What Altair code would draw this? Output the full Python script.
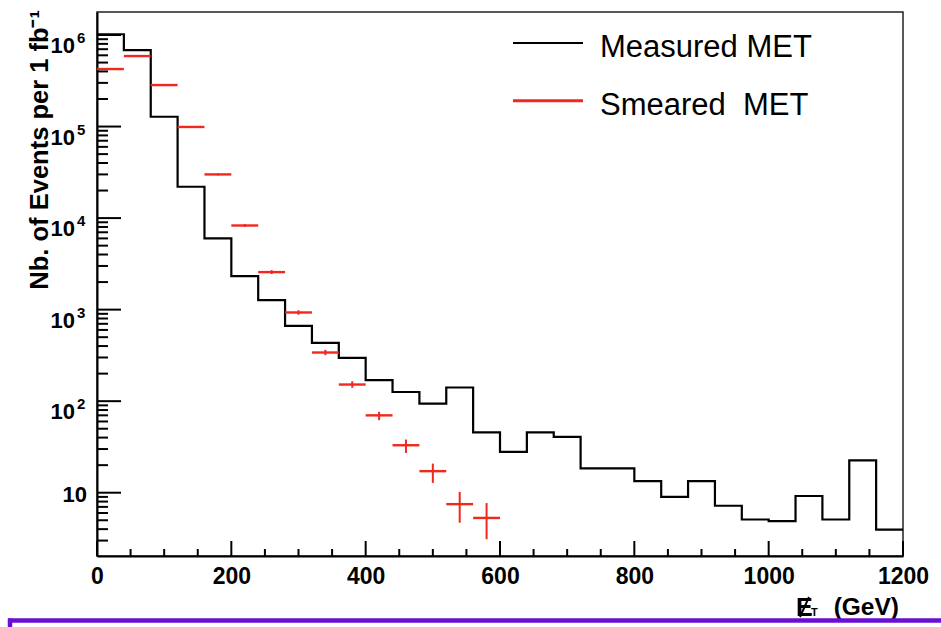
import altair as alt
import pandas as pd

# ---------------- data ----------------
bin_lo = [0, 40, 80, 120, 160, 200, 240, 280, 320, 360, 400, 440, 480, 520, 560,
          600, 640, 680, 720, 760, 800, 840, 880, 920, 960, 1000, 1040, 1080, 1120, 1160]
bin_hi_last = 1200
measured = [1.02e6, 6.85e5, 1.28e5, 2.2e4, 6.0e3, 2.32e3, 1.27e3, 665, 434, 297,
            170, 126, 94, 141, 45.5, 27.9, 45.5, 40.7, 18.4, 18.4,
            13.4, 9.0, 13.4, 7.2, 5.1, 4.9, 9.2, 5.1, 22.6, 3.96]

sm_center = [20, 60, 100, 140, 180, 220, 260, 300, 340, 380, 420, 460, 500, 540, 580]
sm_left = [0, 40, 80, 120, 160, 200, 240, 280, 320, 360, 400, 440, 480, 520, 560]
sm_right = [40, 80, 120, 160, 200, 240, 280, 320, 360, 400, 440, 480, 520, 560, 600]
smeared = [4.25e5, 5.89e5, 2.84e5, 9.9e4, 3.0e4, 8.3e3, 2.57e3, 931, 340, 152, 70, 33, 17.2, 7.5, 5.3]
sm_err_lo = [4.2e5, 5.85e5, 2.8e5, 9.7e4, 2.93e4, 8.0e3, 2.45e3, 880, 318, 140, 62, 27.2, 12.8, 4.7, 3.1]
sm_err_hi = [4.3e5, 5.93e5, 2.88e5, 1.01e5, 3.07e4, 8.6e3, 2.7e3, 985, 364, 165, 76.4, 38.1, 20.8, 10.2, 7.7]

x_major = [0, 200, 400, 600, 800, 1000, 1200]
x_minor = [50, 100, 150, 250, 300, 350, 450, 500, 550, 650, 700, 750,
           850, 900, 950, 1050, 1100, 1150]
y_major = [10, 100, 1000, 10000, 100000, 1000000]
y_pow_vals = [100, 1000, 10000, 100000, 1000000]
y_pow_exp = ["2", "3", "4", "5", "6"]
legend_names = ["Measured MET", "Smeared\u00a0 MET"]
y_title = "Nb. of Events per 1 fb\u207b\u00b9"
x_title_main = "E"
x_title_sub = "T"
x_title_unit = "(GeV)"

YMIN, YMAX = 2.035, 1.784e6
y_minor = [m * d for d in [1, 10, 100, 1000, 10000, 100000] for m in range(2, 10)
           if YMIN <= m * d <= YMAX]

# ---------------- layout ----------------
W, H = 806, 544
FONT = "Liberation Sans"
RED = "#f0281e"

xs = alt.Scale(domain=[0, 1200], nice=False, zero=False)
ys = alt.Scale(type="log", domain=[YMIN, YMAX], nice=False)
xax = alt.Axis(values=x_major, title=None, grid=False, ticks=False, domain=True,
               domainColor="black", domainWidth=2, labels=True, labelFont=FONT,
               labelFontWeight="bold", labelFontSize=23, labelColor="black",
               labelPadding=9, labelFlush=False, format="d")
yax = alt.Axis(values=y_major, title=None, grid=False, ticks=False, domain=True,
               domainColor="black", domainWidth=2, labels=False)

hist = pd.DataFrame({"x": bin_lo + [bin_hi_last], "y": measured + [measured[-1]]})
line = alt.Chart(hist).mark_line(interpolate="step-after", color="black", strokeWidth=2.2).encode(
    x=alt.X("x:Q", scale=xs, axis=xax), y=alt.Y("y:Q", scale=ys, axis=yax))

sm = pd.DataFrame({"c": sm_center, "x1": sm_left, "x2": sm_right, "v": smeared,
                   "lo": sm_err_lo, "hi": sm_err_hi})
hbar = alt.Chart(sm).mark_rule(color=RED, strokeWidth=2.4).encode(
    x=alt.X("x1:Q", scale=xs, axis=xax), x2="x2:Q", y=alt.Y("v:Q", scale=ys, axis=yax))
vbar = alt.Chart(sm).mark_rule(color=RED, strokeWidth=2).encode(
    x=alt.X("c:Q", scale=xs, axis=xax), y=alt.Y("lo:Q", scale=ys, axis=yax), y2="hi:Q")

# inward ticks
xt_major = alt.Chart(pd.DataFrame({"v": x_major})).mark_rule(color="black", strokeWidth=2).encode(
    x=alt.X("v:Q", scale=xs, axis=xax), y=alt.value(H), y2=alt.value(H - 15))
xt_minor = alt.Chart(pd.DataFrame({"v": x_minor})).mark_rule(color="black", strokeWidth=2).encode(
    x=alt.X("v:Q", scale=xs, axis=xax), y=alt.value(H), y2=alt.value(H - 7))
yt_major = alt.Chart(pd.DataFrame({"v": y_major})).mark_rule(color="black", strokeWidth=2).encode(
    y=alt.Y("v:Q", scale=ys, axis=yax), x=alt.value(0), x2=alt.value(24))
yt_minor = alt.Chart(pd.DataFrame({"v": y_minor})).mark_rule(color="black", strokeWidth=2).encode(
    y=alt.Y("v:Q", scale=ys, axis=yax), x=alt.value(0), x2=alt.value(11))

# y tick labels in ROOT style (10 with superscript exponent)
ylab10 = alt.Chart(pd.DataFrame({"v": [10], "t": ["10"]})).mark_text(
    align="right", baseline="alphabetic", font=FONT, fontWeight="bold", fontSize=22, dy=9).encode(
    y=alt.Y("v:Q", scale=ys, axis=yax), x=alt.value(-10), text="t:N")
ypow = pd.DataFrame({"v": y_pow_vals, "base": ["10"] * len(y_pow_vals), "e": y_pow_exp})
ylab_base = alt.Chart(ypow).mark_text(
    align="right", baseline="alphabetic", font=FONT, fontWeight="bold", fontSize=22, dy=18).encode(
    y=alt.Y("v:Q", scale=ys, axis=yax), x=alt.value(-22), text="base:N")
ylab_exp = alt.Chart(ypow).mark_text(
    align="left", baseline="alphabetic", font=FONT, fontWeight="bold", fontSize=15, dy=8).encode(
    y=alt.Y("v:Q", scale=ys, axis=yax), x=alt.value(-20), text="e:N")

one = pd.DataFrame({"k": [0]})
ytitle = alt.Chart(one).mark_text(
    angle=270, align="right", baseline="alphabetic", font=FONT, fontWeight="bold",
    fontSize=25.5, text=y_title, color="black").encode(x=alt.value(-49), y=alt.value(-2))

# x title: missing E_T (GeV)
xt_E = alt.Chart(one).mark_text(align="left", baseline="alphabetic", font=FONT, fontWeight="bold",
                                fontSize=25, text=x_title_main, color="black").encode(
    x=alt.value(699), y=alt.value(604))
xt_slash = alt.Chart(one).mark_rule(color="black", strokeWidth=2).encode(
    x=alt.value(703), y=alt.value(605), x2=alt.value(712), y2=alt.value(585))
xt_T = alt.Chart(one).mark_text(align="left", baseline="alphabetic", font=FONT, fontWeight="bold",
                                fontSize=11, text=x_title_sub, color="black").encode(
    x=alt.value(714), y=alt.value(604))
xt_G = alt.Chart(one).mark_text(align="right", baseline="alphabetic", font=FONT, fontWeight="bold",
                                fontSize=24.5, text=x_title_unit, color="black").encode(
    x=alt.value(802), y=alt.value(603))

# legend
leg_l1 = alt.Chart(one).mark_rule(color="black", strokeWidth=1.8).encode(
    x=alt.value(416), x2=alt.value(486), y=alt.value(31))
leg_l2 = alt.Chart(one).mark_rule(color=RED, strokeWidth=3).encode(
    x=alt.value(416), x2=alt.value(486), y=alt.value(88.7))
leg_t1 = alt.Chart(one).mark_text(align="left", baseline="alphabetic", font=FONT, fontSize=31,
                                  text=legend_names[0], color="black").encode(
    x=alt.value(503), y=alt.value(45))
leg_t2 = alt.Chart(one).mark_text(align="left", baseline="alphabetic", font=FONT, fontSize=31,
                                  text=legend_names[1], color="black").encode(
    x=alt.value(503), y=alt.value(103))

# purple frame at the bottom of the picture
purple_h = alt.Chart(one).mark_rule(color="#6a0fd2", strokeWidth=4.5).encode(
    x=alt.value(-89), x2=alt.value(850), y=alt.value(608.5))
purple_v = alt.Chart(one).mark_rule(color="#6a0fd2", strokeWidth=4.5).encode(
    x=alt.value(-87), y=alt.value(606.5), y2=alt.value(620))

chart = alt.layer(
    line, hbar, vbar, xt_major, xt_minor, yt_major, yt_minor,
    ylab10, ylab_base, ylab_exp, ytitle, xt_E, xt_slash, xt_T, xt_G,
    leg_l1, leg_l2, leg_t1, leg_t2, purple_h, purple_v
).properties(
    width=W, height=H,
    padding={"left": 97, "top": 12, "right": 38, "bottom": 71},
    autosize=alt.AutoSizeParams(type="none"),
    background="white",
).configure_view(stroke="#222222", strokeWidth=1.5)

chart.save("out.html", embed_options={"renderer": "svg", "actions": False})
